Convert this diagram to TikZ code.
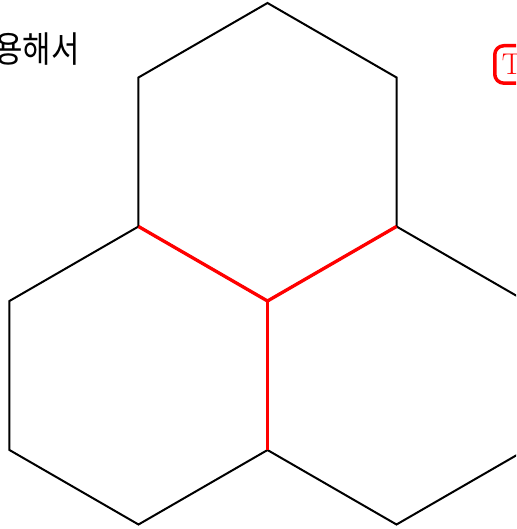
\documentclass[tikz,border=0pt]{standalone}
\usepackage{fontspec}
\newfontfamily\kofont[FakeStretch=0.86]{Noto Sans CJK KR}
\usetikzlibrary{positioning}
\definecolor{edgeblack}{HTML}{000000}
\definecolor{cutred}{HTML}{FF0000}
\tikzset{hexedge/.style={line width=2pt, color=edgeblack}, cutedge/.style={line width=3.3pt, color=cutred}, word/.style={font=\kofont\fontsize{36}{40}\selectfont, inner sep=0pt}, tagbox/.style={draw=cutred, line width=3.5pt, rounded corners=9pt, text=cutred, font=\fontsize{30}{33}\selectfont, inner xsep=7pt, inner ysep=8.5pt}}

\begin{document}
\begin{tikzpicture}[x=1pt,y=-1pt]
\useasboundingbox (0,0) rectangle (516,529);
\clip (0,0) rectangle (516,529);
\foreach \cx/\cy in {267.5/152, 138.5/375.5, 396.5/375.5}
  \draw[hexedge,shift={(\cx,\cy)}] (30:149) -- (90:149) -- (150:149) -- (210:149) -- (270:149) -- (330:149) -- cycle;
\coordinate (mid) at (267.5,301);
\coordinate (ul) at (138.5,226.5);
\coordinate (ur) at (396.5,226.5);
\coordinate (dn) at (267.5,450);
\draw[cutedge] (ul) -- (mid) -- (ur);
\draw[cutedge] (mid) -- (dn);
\node[word, anchor=base east] (yonghaeseo) at (80,63) {용해서};
\node[tagbox, anchor=north west] (tag) at (493,44) {T};
\end{tikzpicture}
\end{document}
